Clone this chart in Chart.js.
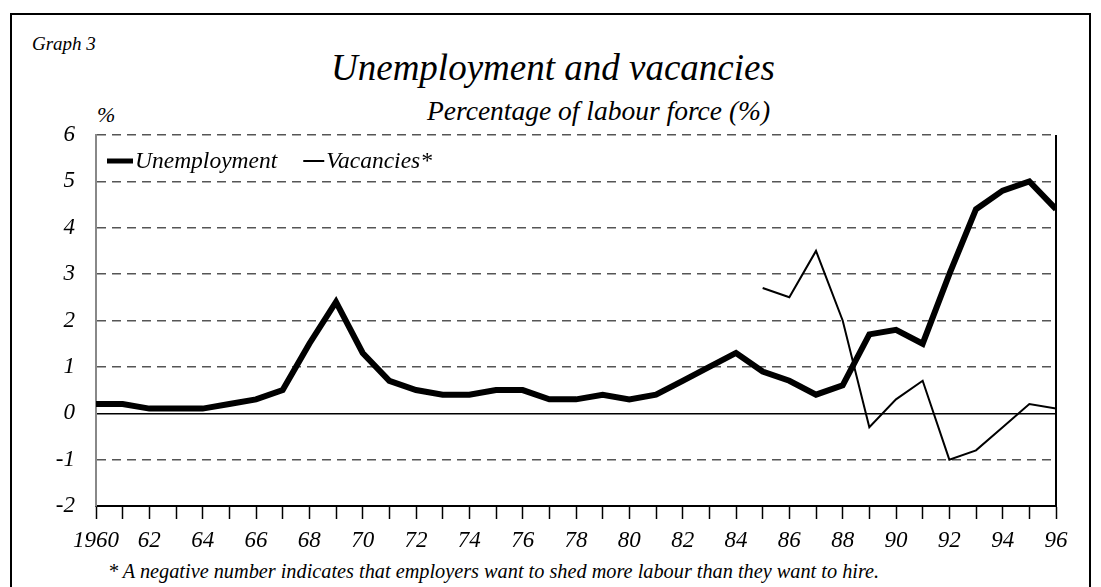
<!DOCTYPE html>
<html>
<head>
<meta charset="utf-8">
<script src="https://cdn.jsdelivr.net/npm/chart.js@4"></script>
<style>
  body { margin: 0; background: #fff; }
  #wrap { position: relative; width: 1101px; height: 587px; overflow: hidden; font-family: "Liberation Serif", "Times New Roman", serif; font-style: italic; }
  #frame { position: absolute; left: 10px; top: 13px; width: 1081px; height: 620px; border: 2px solid #000; box-sizing: border-box; }
  .txt { position: absolute; white-space: nowrap; color: #000; line-height: 1; }
  #box { position: absolute; left: 0; top: 0; width: 1101px; height: 587px; }
</style>
</head>
<body>
<div id="wrap">
  <div id="frame"></div>
  <div class="txt" style="left:32px; top:34px; font-size:19px;">Graph 3</div>
  <div class="txt" style="left:331px; top:49px; font-size:37px;">Unemployment and vacancies</div>
  <div class="txt" style="left:427px; top:97px; font-size:27.5px;">Percentage of labour force (%)</div>
  <div class="txt" style="left:97px; top:104px; font-size:22px;">%</div>
  <div class="txt" style="left:108px; top:561px; font-size:20.3px;">* A negative number indicates that employers want to shed more labour than they want to hire.</div>
  <div id="box"><canvas id="chart"></canvas></div>
</div>
<script>
// Jahre 1960 - 1996
const years = [
  1960, 1961, 1962, 1963, 1964, 1965, 1966, 1967, 1968, 1969,
  1970, 1971, 1972, 1973, 1974, 1975, 1976, 1977, 1978, 1979,
  1980, 1981, 1982, 1983, 1984, 1985, 1986, 1987, 1988, 1989,
  1990, 1991, 1992, 1993, 1994, 1995, 1996
];

const unemployment = [
  0.2, 0.2, 0.1, 0.1, 0.1, 0.2, 0.3, 0.5, 1.5, 2.4,
  1.3, 0.7, 0.5, 0.4, 0.4, 0.5, 0.5, 0.3, 0.3, 0.4,
  0.3, 0.4, 0.7, 1.0, 1.3, 0.9, 0.7, 0.4, 0.6, 1.7,
  1.8, 1.5, 3.0, 4.4, 4.8, 5.0, 4.4
];

// Vacancies erst ab 1985
const vacancies = [
  null, null, null, null, null, null, null, null, null, null,
  null, null, null, null, null, null, null, null, null, null,
  null, null, null, null, null, 2.7, 2.5, 3.5, 2.0, -0.3,
  0.3, 0.7, -1.0, -0.8, -0.3, 0.2, 0.1
];

const seriesNames = ["Unemployment", "Vacancies*"];
const yMin = -2, yMax = 6;

const FONT = '"Liberation Serif", "Times New Roman", serif';

function toPoints(values) {
  return years.map((yr, i) => ({ x: yr, y: values[i] }));
}

// Legende innerhalb der Zeichenfläche
const innerLegend = {
  id: "innerLegend",
  afterDatasetsDraw(chart) {
    const { ctx, chartArea } = chart;
    const sampleW = [26, 21];
    const sampleLW = [5, 2];
    let x = chartArea.left + 11;
    const y = chartArea.top + 26;
    ctx.save();
    ctx.font = "italic 23.5px " + FONT;
    ctx.textBaseline = "middle";
    ctx.fillStyle = "#000";
    chart.data.datasets.forEach((ds, i) => {
      ctx.strokeStyle = ds.borderColor;
      ctx.lineWidth = sampleLW[i];
      ctx.beginPath();
      ctx.moveTo(x, y);
      ctx.lineTo(x + sampleW[i], y);
      ctx.stroke();
      x += sampleW[i] + 2;
      ctx.fillText(ds.label, x, y + 1);
      x += ctx.measureText(ds.label).width + 26;
    });
    ctx.restore();
  }
};

// rechter Rand der Zeichenfläche
const rightEdge = {
  id: "rightEdge",
  afterDraw(chart) {
    const { ctx, chartArea } = chart;
    ctx.save();
    ctx.strokeStyle = "#000";
    ctx.lineWidth = 2;
    ctx.beginPath();
    ctx.moveTo(chartArea.right, chartArea.top);
    ctx.lineTo(chartArea.right, chartArea.bottom);
    ctx.stroke();
    ctx.restore();
  }
};

new Chart(document.getElementById("chart"), {
  type: "line",
  data: {
    datasets: [
      {
        label: seriesNames[0],
        data: toPoints(unemployment),
        borderColor: "#000",
        borderWidth: 6,
        pointRadius: 0,
        tension: 0,
        borderJoinStyle: "miter"
      },
      {
        label: seriesNames[1],
        data: toPoints(vacancies),
        borderColor: "#000",
        borderWidth: 2,
        pointRadius: 0,
        tension: 0,
        borderJoinStyle: "miter"
      }
    ]
  },
  options: {
    responsive: true,
    maintainAspectRatio: false,
    animation: false,
    layout: { padding: { top: 135, right: 45, bottom: 31, left: 0 } },
    plugins: {
      legend: { display: false },
      title: { display: false },
      tooltip: { enabled: false }
    },
    scales: {
      x: {
        type: "linear",
        min: years[0],
        max: years[years.length - 1],
        afterFit: (scale) => { scale.height = 50; },
        grid: {
          drawOnChartArea: false,
          drawTicks: true,
          tickLength: 13,
          color: "#000",
          tickColor: "#000",
          tickWidth: 1.5
        },
        border: { display: true, color: "#000", width: 2 },
        ticks: {
          stepSize: 1,
          autoSkip: false,
          maxRotation: 0,
          padding: 8,
          color: "#000",
          font: { family: FONT, size: 23, style: "italic" },
          callback: (v) => {
            if (v % 2 !== 0) return "";
            return v === years[0] ? String(v) : String(v).slice(2);
          }
        }
      },
      y: {
        min: yMin,
        max: yMax,
        afterFit: (scale) => { scale.width = 96; },
        grid: {
          drawTicks: false,
          lineWidth: 1.5,
          color: (c) => {
            if (!c.tick) return "#555";
            if (c.tick.value === yMin) return "rgba(0,0,0,0)";
            if (c.tick.value === 0) return "#000";
            return "#555";
          }
        },
        border: {
          display: true,
          color: "#888",
          width: 2,
          dash: (c) => (c.tick && c.tick.value === 0 ? [] : [9, 6])
        },
        ticks: {
          stepSize: 1,
          padding: 21,
          color: "#000",
          font: { family: FONT, size: 23, style: "italic" }
        }
      }
    }
  },
  plugins: [innerLegend, rightEdge]
});
</script>
</body>
</html>
